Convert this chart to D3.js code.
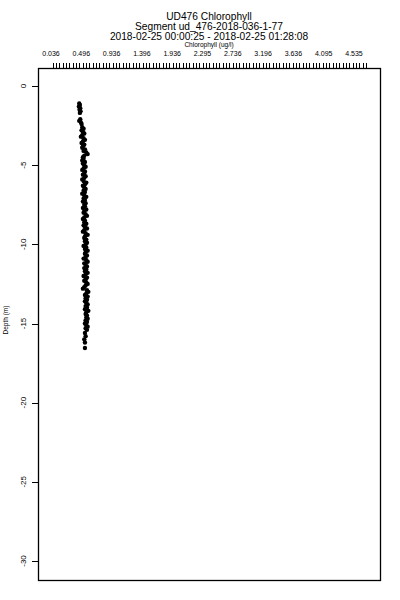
<!DOCTYPE html>
<html>
<head>
<meta charset="utf-8">
<script src="https://cdn.jsdelivr.net/npm/d3@7"></script>
<style>
    body { margin: 0; background: #fff; }
    svg text { font-family: 'Liberation Sans', Arial, sans-serif; fill: #000; -webkit-font-smoothing: antialiased; }
</style>
</head>
<body>
<svg id="chart" width="400" height="600"></svg>
<script>
const titleLines = [
    'UD476 Chlorophyll',
    'Segment ud_476-2018-036-1-77',
    '2018-02-25 00:00:25 - 2018-02-25 01:28:08'
];
const xTitle = 'Chlorophyll (ug/l)';
const yTitle = 'Depth (m)';
const xTickLabels = ['0.036', '0.496', '0.936', '1.396', '1.936', '2.295', '2.736', '3.196', '3.636', '4.095', '4.535'];
const yTickValues = [0, -5, -10, -15, -20, -25, -30];
const minorTickCount = 95;

const depths = [
    -1.1, -1.2, -1.3, -1.4, -1.5, -1.6, -1.7,
    -2.1, -2.2, -2.3, -2.4,
    -2.6, -2.7, -2.8, -2.9, -3.0, -3.1, -3.2, -3.3, -3.4, -3.5,
    -3.6, -3.7, -3.8, -3.9, -4.0, -4.1, -4.2, -4.3, -4.4, -4.5,
    -4.6, -4.7, -4.8, -4.9, -5.0, -5.1, -5.2, -5.3, -5.4, -5.5,
    -5.6, -5.7, -5.8, -5.9, -6.0, -6.1, -6.2, -6.3, -6.4, -6.5,
    -6.6, -6.7, -6.8, -6.9, -7.0, -7.1, -7.2, -7.3, -7.4, -7.5,
    -7.6, -7.7, -7.8, -7.9, -8.0, -8.1, -8.2, -8.3, -8.4, -8.5,
    -8.6, -8.7, -8.8, -8.9, -9.0, -9.1, -9.2, -9.3, -9.4, -9.5,
    -9.6, -9.7, -9.8, -9.9, -10.0, -10.1, -10.2, -10.3, -10.4, -10.5,
    -10.6, -10.7, -10.8, -10.9, -11.0, -11.1, -11.2, -11.3, -11.4, -11.5,
    -11.6, -11.7, -11.8, -11.9, -12.0, -12.1, -12.2, -12.3, -12.4, -12.5,
    -12.6, -12.7, -12.8, -12.9, -13.0, -13.1, -13.2, -13.3, -13.4, -13.5,
    -13.6, -13.7, -13.8, -13.9, -14.0, -14.1, -14.2, -14.3, -14.4, -14.5,
    -14.6, -14.7, -14.8, -14.9, -15.0, -15.1, -15.2, -15.3, -15.4,
    -15.6, -15.8, -16.0, -16.2, -16.55
];
const chlorophyll = [
    0.455, 0.465, 0.450, 0.470, 0.460, 0.475, 0.465,
    0.470, 0.455, 0.480, 0.490,
    0.50, 0.52, 0.49, 0.51, 0.53, 0.50, 0.48, 0.52, 0.54, 0.51,
    0.49, 0.53, 0.51, 0.50, 0.54, 0.52, 0.56, 0.58, 0.53, 0.51,
    0.52, 0.50, 0.54, 0.51, 0.53, 0.55, 0.52, 0.50, 0.54, 0.53,
    0.51, 0.55, 0.53, 0.50, 0.52, 0.56, 0.54, 0.51, 0.53, 0.55,
    0.52, 0.54, 0.50, 0.53, 0.56, 0.52, 0.54, 0.51, 0.55, 0.53,
    0.54, 0.51, 0.56, 0.53, 0.52, 0.55, 0.57, 0.53, 0.51, 0.54,
    0.53, 0.56, 0.52, 0.54, 0.57, 0.53, 0.51, 0.55, 0.58, 0.54,
    0.53, 0.56, 0.54, 0.57, 0.55, 0.52, 0.56, 0.54, 0.58, 0.55,
    0.54, 0.57, 0.55, 0.52, 0.56, 0.58, 0.53, 0.55, 0.57, 0.53,
    0.56, 0.54, 0.58, 0.55, 0.52, 0.57, 0.55, 0.53, 0.56, 0.58,
    0.55, 0.53, 0.51, 0.57, 0.59, 0.56, 0.54, 0.58, 0.55, 0.57,
    0.54, 0.56, 0.58, 0.55, 0.57, 0.54, 0.59, 0.56, 0.55, 0.57,
    0.56, 0.58, 0.55, 0.57, 0.54, 0.56, 0.58, 0.55, 0.57,
    0.54, 0.55, 0.53, 0.54, 0.54
];

const box = { left: 38, right: 380, top: 68, bottom: 580 };

const svg = d3.select('#chart');

const xScale = d3.scaleLinear()
    .domain([0.036, 4.535])
    .range([51, 354]);

const xLabelScale = d3.scalePoint()
    .domain(xTickLabels)
    .range([51, 354]);

const minorScale = d3.scaleLinear()
    .domain([0, minorTickCount - 1])
    .range([52.5, 366]);

const yScale = d3.scaleLinear()
    .domain([0, -30])
    .range([86, 561]);

// titles
svg.selectAll('.title')
    .data(titleLines)
    .enter()
    .append('text')
    .attr('class', 'title')
    .attr('x', 209)
    .attr('y', (d, i) => 20 + i * 10)
    .attr('text-anchor', 'middle')
    .attr('font-size', 10.2)
    .text(d => d);

svg.append('text')
    .attr('x', 209)
    .attr('y', 47)
    .attr('text-anchor', 'middle')
    .attr('font-size', 6.5)
    .text(xTitle);

// top axis labels and minor ticks
svg.selectAll('.x-label')
    .data(xTickLabels)
    .enter()
    .append('text')
    .attr('class', 'x-label')
    .attr('x', d => xLabelScale(d))
    .attr('y', 56)
    .attr('text-anchor', 'middle')
    .attr('font-size', 7)
    .text(d => d);

svg.selectAll('.minor-tick')
    .data(d3.range(minorTickCount))
    .enter()
    .append('line')
    .attr('class', 'minor-tick')
    .attr('x1', d => Math.round(minorScale(d)) + 0.5)
    .attr('x2', d => Math.round(minorScale(d)) + 0.5)
    .attr('y1', 63)
    .attr('y2', box.top)
    .attr('stroke', '#000')
    .attr('stroke-width', 1);

// left axis
const yAxis = svg.append('g')
    .attr('class', 'y-axis');

yAxis.selectAll('line')
    .data(yTickValues)
    .enter()
    .append('line')
    .attr('x1', 32)
    .attr('x2', box.left)
    .attr('y1', d => Math.round(yScale(d)) + 0.5)
    .attr('y2', d => Math.round(yScale(d)) + 0.5)
    .attr('stroke', '#000')
    .attr('stroke-width', 1);

yAxis.selectAll('text')
    .data(yTickValues)
    .enter()
    .append('text')
    .attr('transform', d => `translate(26,${yScale(d)}) rotate(-90)`)
    .attr('text-anchor', 'middle')
    .attr('font-size', 8)
    .text(d => d);

svg.append('text')
    .attr('transform', 'translate(8,320) rotate(-90)')
    .attr('text-anchor', 'middle')
    .attr('font-size', 6.5)
    .text(yTitle);

// plot frame
svg.append('rect')
    .attr('x', box.left + 0.5)
    .attr('y', box.top + 0.5)
    .attr('width', box.right - box.left)
    .attr('height', box.bottom - box.top)
    .attr('fill', 'none')
    .attr('stroke', '#000')
    .attr('stroke-width', 1.3);

// cast points
const points = depths.map((d, i) => ({ depth: d, chl: chlorophyll[i] }));

svg.append('g')
    .selectAll('circle')
    .data(points)
    .enter()
    .append('circle')
    .attr('cx', d => xScale(d.chl))
    .attr('cy', d => yScale(d.depth))
    .attr('r', 2.2)
    .attr('fill', '#000');
</script>
</body>
</html>
